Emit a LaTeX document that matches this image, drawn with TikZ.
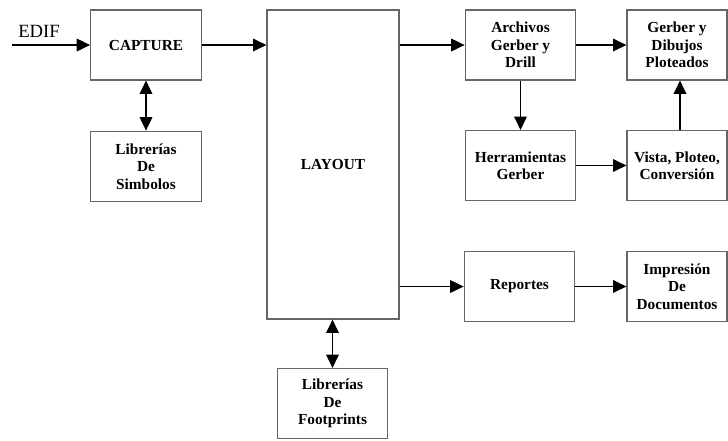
\documentclass[tikz,border=0pt]{standalone}
\usepackage{fontspec}
\setmainfont{Liberation Serif}
\usetikzlibrary{arrows.meta}

\begin{document}
\begin{tikzpicture}[x=0.75pt, y=-0.75pt,
    box/.style={draw=black!60, line width=0.9pt, fill=white, align=center, inner sep=0pt,
        minimum width=83pt, minimum height=52.5pt, font=\bfseries\fontsize{11.5}{13}\selectfont},
    narrow/.style={box, minimum width=75pt},
    flow/.style={-{Triangle[length=10pt,width=9.5pt]}, line width=0.8pt},
    both/.style={{Triangle[length=10pt,width=9.5pt]}-{Triangle[length=10pt,width=9.5pt]}, line width=0.8pt}]
    \useasboundingbox (0,0) rectangle (728,440);

    %left column
    \node [box] (capture) at (146,45) {CAPTURE};
    \node [box, minimum height=53pt] (simbolos) at (146,166.5) {Librerías\\De\\Simbolos};
    \coordinate (edif) at (12,45);
    \node [font=\fontsize{14}{16}\selectfont] (edifname) at (39,31) {EDIF};

    %layout
    \node [box, minimum width=99pt, minimum height=231.75pt] (layout) at (333,164.5) {LAYOUT};
    \node [box] (footprints) at (332.5,403.5) {Librerías\\De\\Footprints};

    %gerber
    \node [box] (archivos) at (520.5,45) {Archivos\\Gerber y\\Drill};
    \node [box] (herram) at (520.5,165.5) {Herramientas\\Gerber};
    \node [narrow] (dibujos) at (677,45) {Gerber y\\Dibujos\\Ploteados};
    \node [narrow] (vista) at (677,165.5) {Vista, Ploteo,\\Conversión};

    %reportes
    \node [box, minimum height=53pt] (reportes) at (519.5,286.5) {Reportes};
    \node [narrow, minimum height=53pt] (impresion) at (677,286.5) {Impresión\\De\\Documentos};

    \draw [flow] (edif) -- (capture);
    \draw [flow] (capture) -- (capture -| layout.west);
    \draw [both] (capture) -- (simbolos);
    \draw [both] (layout.south -| footprints) -- (footprints);
    \draw [flow] (archivos -| layout.east) -- (archivos);
    \draw [flow] (reportes -| layout.east) -- (reportes);
    \draw [flow] (archivos) -- (dibujos);
    \draw [flow] (archivos) -- (herram);
    \draw [flow] (herram) -- (vista);
    \draw [flow] ([xshift=2.25pt]vista.north) -- ([xshift=2.25pt]dibujos.south);
    \draw [flow] (reportes) -- (impresion);
\end{tikzpicture}
\end{document}
